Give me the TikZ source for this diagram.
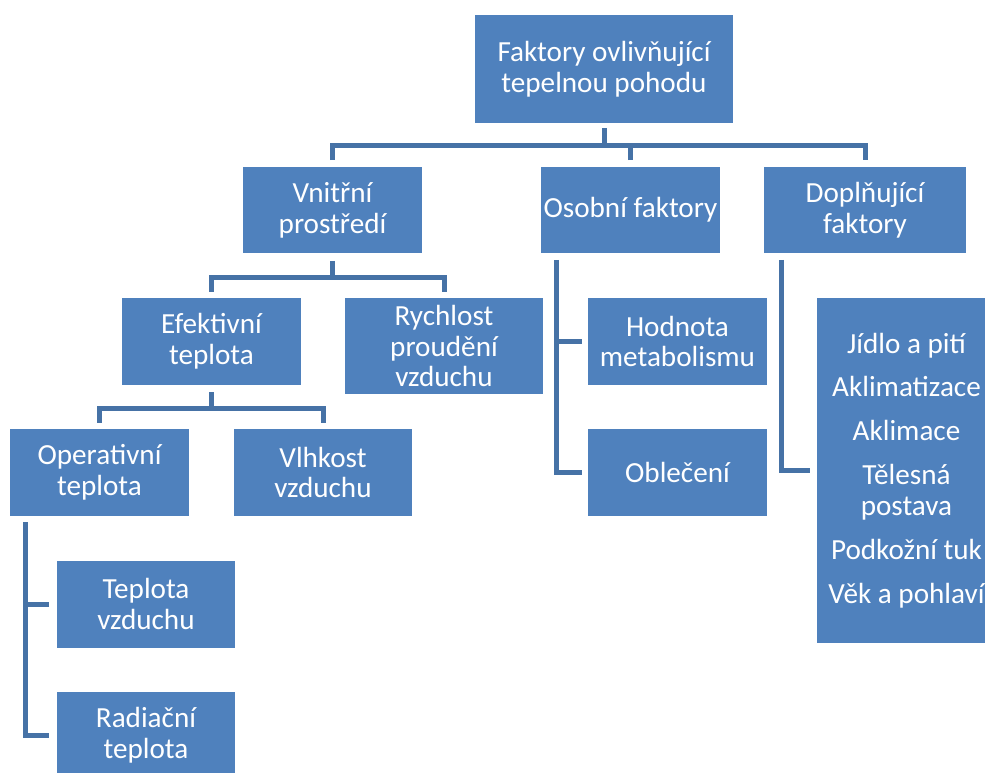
\documentclass[tikz,border=0pt]{standalone}
\usepackage{fontspec}
\setmainfont{Carlito}
\usepackage{tikz}

\definecolor{boxblue}{HTML}{4F81BD}
\definecolor{lineblue}{HTML}{4672A6}

\begin{document}
\begin{tikzpicture}[x=0.02cm,y=-0.02cm,
  box/.style={fill=boxblue, text=white, align=center, inner sep=0pt,
    minimum width=3.58cm, minimum height=1.74cm,
    font=\fontsize{16.6}{17.6}\selectfont},
  conn/.style={draw=lineblue, line width=0.1cm, line join=miter}]
%\draw[help lines] (0,0) grid[step=50] (985,772);

 \clip (0,0) rectangle (985,772);

 \node[box, minimum width=5.16cm, minimum height=2.16cm] (root) at (604,69) {Faktory ovlivňující\\tepelnou pohodu};

 \node[box] (vnitrni) at (332.5,210) {Vnitřní\\prostředí};
 \node[box] (osobni) at (630.5,210) {Osobní faktory};
 \node[box, minimum width=4.04cm] (doplnujici) at (865,210) {Doplňující\\faktory};

 \node[box] (efektivni) at (211.5,341.5) {Efektivní\\teplota};
 \node[box, minimum width=3.96cm, minimum height=1.92cm] (rychlost) at (444,346) {Rychlost\\proudění\\vzduchu};

 \node[box] (operativni) at (99.5,472.5) {Operativní\\teplota};
 \node[box] (vlhkost) at (323,472.5) {Vlhkost\\vzduchu};

 \node[box] (teplota) at (146,604) {Teplota\\vzduchu};
 \node[box] (radiacni) at (146,735.5) {Radiační\\teplota};

 \node[box] (hodnota) at (677.5,341.5) {Hodnota\\metabolismu};
 \node[box] (obleceni) at (677.5,472.5) {Oblečení};

 \node[box, minimum height=6.9cm] (doplnky) at (906.5,470.5) {Jídlo a pití\\[0.26cm]Aklimatizace\\[0.26cm]Aklimace\\[0.26cm]Tělesná\\postava\\[0.26cm]Podkožní tuk\\[0.26cm]Věk a pohlaví};

 % first level
 \draw[conn] ([yshift=-0.1cm]root.south) -- ++(0,17);
 \draw[conn] ([yshift=0.12cm]vnitrni.north) |- ([yshift=-0.44cm]root.south) -| ([yshift=0.12cm]doplnujici.north);
 \draw[conn] ([yshift=0.12cm]osobni.north) -- ++(0,-16);

 % vnitrni prostredi
 \draw[conn] ([yshift=-0.14cm]vnitrni.south) -- ++(0,17);
 \draw[conn] ([yshift=0.12cm]efektivni.north) |- ([yshift=-0.48cm]vnitrni.south) -| ([yshift=0.12cm]rychlost.north);

 % efektivni teplota
 \draw[conn] ([yshift=-0.14cm]efektivni.south) -- ++(0,16);
 \draw[conn] ([yshift=0.12cm]operativni.north) |- ([yshift=-0.46cm]efektivni.south) -| ([yshift=0.12cm]vlhkost.north);

 % operativni teplota
 \draw[conn] ([xshift=0.32cm,yshift=-0.12cm]operativni.south west) |- ([xshift=-0.14cm]radiacni.west);
 \draw[conn] ([xshift=-0.14cm]teplota.west) -- ++(-24,0);

 % osobni faktory
 \draw[conn] ([xshift=0.32cm,yshift=-0.12cm]osobni.south west) |- ([xshift=-0.12cm]obleceni.west);
 \draw[conn] ([xshift=-0.12cm]hodnota.west) -- ++(-25,0);

 % doplnujici faktory
 \draw[conn] ([xshift=0.36cm,yshift=-0.12cm]doplnujici.south west) |- ([xshift=-0.14cm]doplnky.west);

\end{tikzpicture}
\end{document}
